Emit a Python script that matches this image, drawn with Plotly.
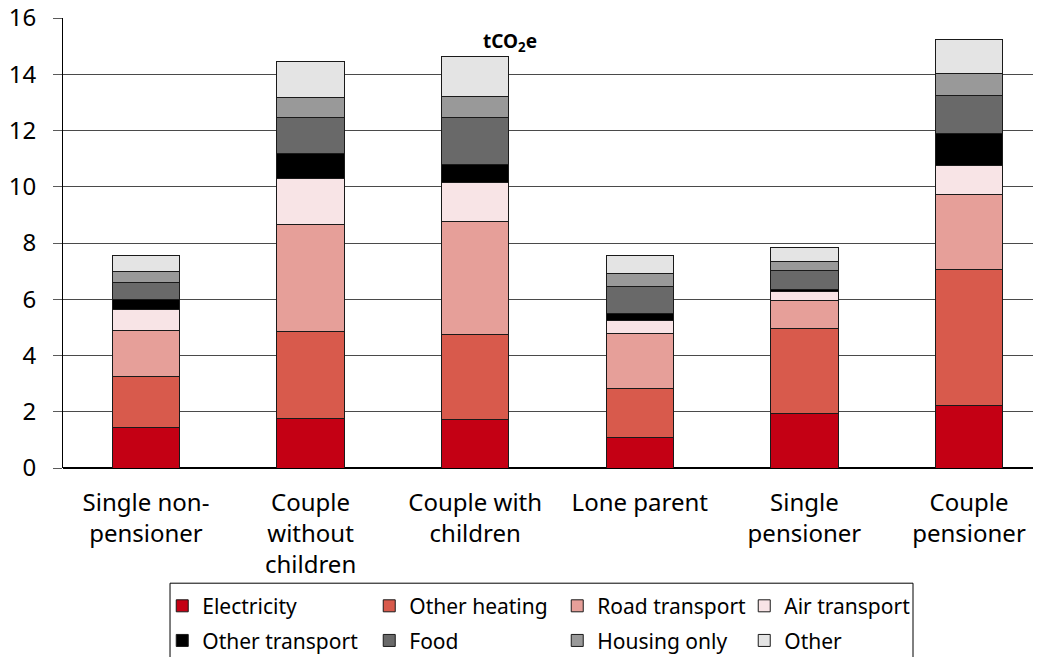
import plotly.graph_objects as go

# household types (x categories)
CATEGORIES = [
    "Single non-<br>pensioner",
    "Couple<br>without<br>children",
    "Couple with<br>children",
    "Lone parent",
    "Single<br>pensioner",
    "Couple<br>pensioner",
]

# tCO2e per component
ELECTRICITY     = [1.45, 1.77, 1.74, 1.08, 1.94, 2.24]
OTHER_HEATING   = [1.79, 3.08, 2.99, 1.74, 3.03, 4.83]
ROAD_TRANSPORT  = [1.66, 3.81, 4.05, 1.98, 0.97, 2.67]
AIR_TRANSPORT   = [0.74, 1.65, 1.36, 0.45, 0.32, 1.03]
OTHER_TRANSPORT = [0.36, 0.88, 0.64, 0.23, 0.09, 1.11]
FOOD            = [0.59, 1.28, 1.69, 0.99, 0.69, 1.38]
HOUSING_ONLY    = [0.41, 0.70, 0.73, 0.44, 0.32, 0.75]
OTHER           = [0.54, 1.29, 1.42, 0.66, 0.49, 1.21]

# name, values, colour, legend row, legend column width (px)
SERIES = [
    ("Electricity",     ELECTRICITY,     "#C40014", "legend",  162),
    ("Other heating",   OTHER_HEATING,   "#D85A4C", "legend",  143),
    ("Road transport",  ROAD_TRANSPORT,  "#E69F99", "legend",  142),
    ("Air transport",   AIR_TRANSPORT,   "#F8E4E6", "legend",  140),
    ("Other transport", OTHER_TRANSPORT, "#000000", "legend2", 162),
    ("Food",            FOOD,            "#696969", "legend2", 143),
    ("Housing only",    HOUSING_ONLY,    "#999999", "legend2", 142),
    ("Other",           OTHER,           "#E4E4E4", "legend2", 140),
]

FONT = "Noto Sans"

fig = go.Figure()
for name, vals, color, leg, lw in SERIES:
    fig.add_trace(go.Bar(
        x=CATEGORIES, y=vals, name=name,
        marker=dict(color=color, line=dict(color="#1a1a1a", width=1)),
        width=0.41,
        legend=leg, legendwidth=lw,
    ))

legend_common = dict(
    orientation="h",
    xref="paper", yref="paper",
    x=0.102, xanchor="left", yanchor="middle",
    bgcolor="rgba(0,0,0,0)", borderwidth=0,
    font=dict(size=21, family=FONT),
    traceorder="normal",
)

# page body has an 8px margin, so the figure is 8px smaller than the window
fig.update_layout(
    barmode="stack",
    width=1033, height=649,
    paper_bgcolor="white", plot_bgcolor="white",
    margin=dict(t=10, b=189, l=55, r=5, autoexpand=False),
    font=dict(family=FONT, color="#000000", size=20),
    xaxis=dict(
        range=[-0.504, 5.407],
        showline=False, ticks="",
        ticklabelstandoff=18,
        tickfont=dict(size=24),
    ),
    yaxis=dict(
        range=[0, 16], dtick=2,
        showgrid=True, gridcolor="#4a4a4a", gridwidth=1,
        zeroline=True, zerolinecolor="#000000", zerolinewidth=1.5,
        showline=True, linecolor="#000000", linewidth=1,
        ticks="outside", ticklen=9, tickcolor="#5a5a5a",
        ticklabelstandoff=12, ticklabeloverflow="allow",
        tickfont=dict(size=24),
    ),
    legend=dict(legend_common, y=-0.307),
    legend2=dict(legend_common, y=-0.384),
    shapes=[dict(
        type="rect", xref="paper", yref="paper",
        x0=0.110, x1=0.8736, y0=-0.256, y1=-0.44,
        line=dict(color="#000000", width=1),
    )],
    annotations=[dict(
        text="<b>tCO<sub>2</sub>e</b>",
        xref="paper", yref="paper", x=0.459, y=0.947,
        yanchor="middle", showarrow=False, font=dict(size=19),
    )],
)

fig.write_html("out.html")
